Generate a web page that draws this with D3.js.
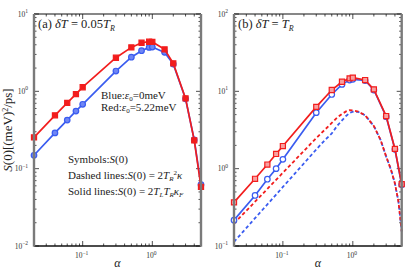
<!DOCTYPE html>
<html>
<head>
<meta charset="utf-8">
<script src="https://cdn.jsdelivr.net/npm/d3@7"></script>
<style>
  body { margin: 0; background: #fff; }
  svg { display: block; }
  text { font-family: "Liberation Serif", "DejaVu Serif", serif; fill: #222; }
  .tick { font-size: 7.5px; fill: #333; }
</style>
</head>
<body>
<div id="chart"></div>
<script>
// symbol positions (alpha) and S(0) values
var alpha = [0.02, 0.04, 0.06, 0.08, 0.1, 0.3, 0.5, 0.7, 0.9, 1.0, 1.5, 2, 3, 4, 5];
var aRed  = [0.254, 0.49, 0.71, 0.92, 1.13, 2.72, 3.7, 4.25, 4.38, 4.35, 3.49, 2.3, 0.81, 0.232, 0.058];
var aBlue = [0.149, 0.29, 0.425, 0.556, 0.68, 1.83, 2.76, 3.35, 3.7, 3.74, 3.19, 2.25, 0.8, 0.235, 0.062];
var bRed  = [0.367, 0.74, 1.13, 1.55, 1.96, 6.3, 10.4, 13.3, 14.7, 15.0, 14.0, 10.6, 4.79, 1.8, 0.63];
var bBlue = [0.216, 0.45, 0.73, 1.0, 1.32, 5.3, 9.1, 12.3, 14.0, 14.3, 13.8, 10.4, 4.7, 1.78, 0.62];

// dashed curves, panel (b)
var alphaDash = [0.02, 0.04, 0.06, 0.08, 0.1, 0.2, 0.3, 0.4, 0.5, 0.6, 0.7, 0.8, 0.9, 1.0, 1.2, 1.5, 2, 2.5, 3, 3.5, 4, 4.5, 5];
var bRedDash  = [0.195, 0.374, 0.547, 0.718, 0.885, 1.7, 2.48, 3.2, 3.9, 4.6, 5.1, 5.5, 5.72, 5.68, 5.45, 4.9, 3.56, 2.34, 1.43, 0.98, 0.645, 0.373, 0.155];
var bBlueDash = [0.113, 0.229, 0.345, 0.462, 0.58, 1.17, 1.77, 2.35, 2.85, 3.6, 4.2, 4.8, 5.25, 5.45, 5.42, 4.9, 3.56, 2.34, 1.43, 0.98, 0.645, 0.373, 0.155];

var xDomain = [0.02, 5];
var xTicks = [0.1, 1];
var yTicksA = [0.01, 0.1, 1, 10];
var yTicksB = [0.1, 1, 10, 100];

var red = '#f21d1d';
var blue = '#3a5cf0';

var svg = d3.select('#chart').append('svg')
  .attr('width', 415)
  .attr('height', 277);

function expLabel(g, v, x, y, anchor) {
  var e = Math.round(Math.log10(v));
  var t = g.append('text')
    .attr('class', 'tick')
    .attr('x', x)
    .attr('y', y)
    .style('text-anchor', anchor);
  t.append('tspan').text('10');
  t.append('tspan')
    .attr('dy', -3.5)
    .style('font-size', '5.5px')
    .text(e < 0 ? '\u2212' + Math.abs(e) : e);
}

function drawPanel(p) {
  var g = svg.append('g');
  var x = d3.scaleLog().domain(xDomain).range([p.left, p.right]);
  var y = d3.scaleLog().domain(p.yDomain).range([p.bottom, p.top]);

  // minor + major ticks, drawn inward on all four sides
  var xMinor = [];
  [0.01, 0.1, 1].forEach(function(d) {
    for (var k = 1; k < 10; k++) {
      var v = d * k;
      if (v >= xDomain[0] && v <= xDomain[1]) xMinor.push(v);
    }
  });
  var yMinor = [];
  p.yTicks.slice(0, -1).forEach(function(d) {
    for (var k = 2; k < 10; k++) yMinor.push(d * k);
  });

  xMinor.forEach(function(v) {
    var len = xTicks.indexOf(v) >= 0 ? 5 : 2.5;
    g.append('line').attr('x1', x(v)).attr('x2', x(v))
      .attr('y1', p.bottom).attr('y2', p.bottom - len)
      .attr('stroke', '#222').attr('stroke-width', 0.8);
    g.append('line').attr('x1', x(v)).attr('x2', x(v))
      .attr('y1', p.top).attr('y2', p.top + len)
      .attr('stroke', '#222').attr('stroke-width', 0.8);
  });
  yMinor.concat(p.yTicks).forEach(function(v) {
    var len = p.yTicks.indexOf(v) >= 0 ? 5 : 2.5;
    g.append('line').attr('x1', p.left).attr('x2', p.left + len)
      .attr('y1', y(v)).attr('y2', y(v))
      .attr('stroke', '#222').attr('stroke-width', 0.8);
    g.append('line').attr('x1', p.right).attr('x2', p.right - len)
      .attr('y1', y(v)).attr('y2', y(v))
      .attr('stroke', '#222').attr('stroke-width', 0.8);
  });

  p.yTicks.forEach(function(v) {
    expLabel(g, v, p.left - 6, y(v) + 2.5, 'end');
  });
  xTicks.forEach(function(v) {
    expLabel(g, v, x(v) - 1, p.bottom + 12, 'middle');
  });

  g.append('text')
    .attr('x', (p.left + p.right) / 2)
    .attr('y', p.bottom + 21)
    .style('text-anchor', 'middle')
    .style('font-size', '12px')
    .style('font-style', 'italic')
    .text('\u03b1');

  var line = function(xs, ys) {
    return d3.line()
      .x(function(d, i) { return x(xs[i]); })
      .y(function(d) { return y(d); })(ys);
  };

  // dashed curves
  (p.dashes || []).forEach(function(d) {
    g.append('path')
      .attr('d', line(alphaDash, d.values))
      .attr('fill', 'none')
      .attr('stroke', d.color)
      .attr('stroke-width', 1.8)
      .attr('stroke-dasharray', '3.5,2.5');
  });

  // solid lines through the symbols, then symbols (blue first, red on top)
  p.series.forEach(function(s) {
    g.append('path')
      .attr('d', line(alpha, s.values))
      .attr('fill', 'none')
      .attr('stroke', s.color)
      .attr('stroke-width', 1.7);

    g.selectAll(null)
      .data(s.values)
      .enter().append('path')
      .attr('transform', function(d, i) { return 'translate(' + x(alpha[i]) + ',' + y(d) + ')'; })
      .attr('d', d3.symbol().type(s.shape).size(s.shape === d3.symbolSquare ? 26 : 24))
      .attr('fill', s.fill)
      .attr('stroke', s.color)
      .attr('stroke-width', 1.2);
  });

  // frame: black top/bottom, grey sides
  g.append('line').attr('x1', p.left).attr('x2', p.right).attr('y1', p.top).attr('y2', p.top)
    .attr('stroke', '#111').attr('stroke-width', 1.2);
  g.append('line').attr('x1', p.left).attr('x2', p.right).attr('y1', p.bottom).attr('y2', p.bottom)
    .attr('stroke', '#111').attr('stroke-width', 1.5);
  [p.left, p.right].forEach(function(xx) {
    g.append('line').attr('x1', xx).attr('x2', xx).attr('y1', p.top).attr('y2', p.bottom + 0.7)
      .attr('stroke', '#7a7a7a').attr('stroke-width', 2.4);
  });

  return g;
}

var ga = drawPanel({
  left: 34, right: 201, top: 14, bottom: 246,
  yDomain: [0.01, 10], yTicks: yTicksA,
  series: [
    {values: aBlue, color: blue, fill: '#6f86f5', shape: d3.symbolCircle},
    {values: aRed, color: red, fill: red, shape: d3.symbolSquare}
  ]
});

var gb = drawPanel({
  left: 234, right: 401.7, top: 14, bottom: 246,
  yDomain: [0.1, 100], yTicks: yTicksB,
  dashes: [
    {values: bBlueDash, color: blue},
    {values: bRedDash, color: red}
  ],
  series: [
    {values: bBlue, color: blue, fill: '#fff', shape: d3.symbolCircle},
    {values: bRed, color: red, fill: '#f8a0a0', shape: d3.symbolSquare}
  ]
});

// panel titles
var ta = ga.append('text').attr('x', 38).attr('y', 28).style('font-size', '12.5px');
ta.append('tspan').text('(a) ');
ta.append('tspan').style('font-style', 'italic').text('\u03b4T');
ta.append('tspan').text(' = 0.05');
ta.append('tspan').style('font-style', 'italic').text('T');
ta.append('tspan').attr('dy', 2.5).style('font-size', '8px').style('font-style', 'italic').text('R');

var tb = gb.append('text').attr('x', 238).attr('y', 28).style('font-size', '12.5px');
tb.append('tspan').text('(b) ');
tb.append('tspan').style('font-style', 'italic').text('\u03b4T');
tb.append('tspan').text(' = ');
tb.append('tspan').style('font-style', 'italic').text('T');
tb.append('tspan').attr('dy', 2.5).style('font-size', '8px').style('font-style', 'italic').text('R');

// notes inside panel (a)
var n1 = ga.append('text').attr('x', 101).attr('y', 98.5).style('font-size', '11px');
n1.append('tspan').text('Blue:');
n1.append('tspan').style('font-style', 'italic').text('\u03b5');
n1.append('tspan').attr('dy', 2).style('font-size', '7px').text('0');
n1.append('tspan').attr('dy', -2).text('=0meV');

var n2 = ga.append('text').attr('x', 101).attr('y', 111).style('font-size', '11px');
n2.append('tspan').text('Red:');
n2.append('tspan').style('font-style', 'italic').text('\u03b5');
n2.append('tspan').attr('dy', 2).style('font-size', '7px').text('0');
n2.append('tspan').attr('dy', -2).text('=5.22meV');

var n3 = ga.append('text').attr('x', 68).attr('y', 163).style('font-size', '11px');
n3.append('tspan').text('Symbols:');
n3.append('tspan').style('font-style', 'italic').text('S');
n3.append('tspan').text('(0)');

var n4 = ga.append('text').attr('x', 68).attr('y', 179).style('font-size', '11px');
n4.append('tspan').text('Dashed lines:');
n4.append('tspan').style('font-style', 'italic').text('S');
n4.append('tspan').text('(0) = 2');
n4.append('tspan').style('font-style', 'italic').text('T');
n4.append('tspan').attr('dy', 2).style('font-size', '7px').style('font-style', 'italic').text('R');
n4.append('tspan').attr('dy', -6).style('font-size', '7px').text('2');
n4.append('tspan').attr('dy', 4).style('font-style', 'italic').text('\u03ba');

var n5 = ga.append('text').attr('x', 68).attr('y', 195).style('font-size', '11px');
n5.append('tspan').text('Solid lines:');
n5.append('tspan').style('font-style', 'italic').text('S');
n5.append('tspan').text('(0) = 2');
n5.append('tspan').style('font-style', 'italic').text('T');
n5.append('tspan').attr('dy', 2).style('font-size', '7px').style('font-style', 'italic').text('L');
n5.append('tspan').attr('dy', -2).style('font-style', 'italic').text('T');
n5.append('tspan').attr('dy', 2).style('font-size', '7px').style('font-style', 'italic').text('R');
n5.append('tspan').attr('dy', -2).style('font-style', 'italic').text('\u03ba');
n5.append('tspan').attr('dy', 2).style('font-size', '7px').style('font-style', 'italic').text('F');

// y axis title
var yl = svg.append('text')
  .attr('transform', 'translate(12,130) rotate(-90)')
  .style('text-anchor', 'middle')
  .style('font-size', '13px');
yl.append('tspan').style('font-style', 'italic').text('S');
yl.append('tspan').text('(0)[(meV)');
yl.append('tspan').attr('dy', -4.5).style('font-size', '8px').text('2');
yl.append('tspan').attr('dy', 4.5).text('/ps]');
</script>
</body>
</html>
